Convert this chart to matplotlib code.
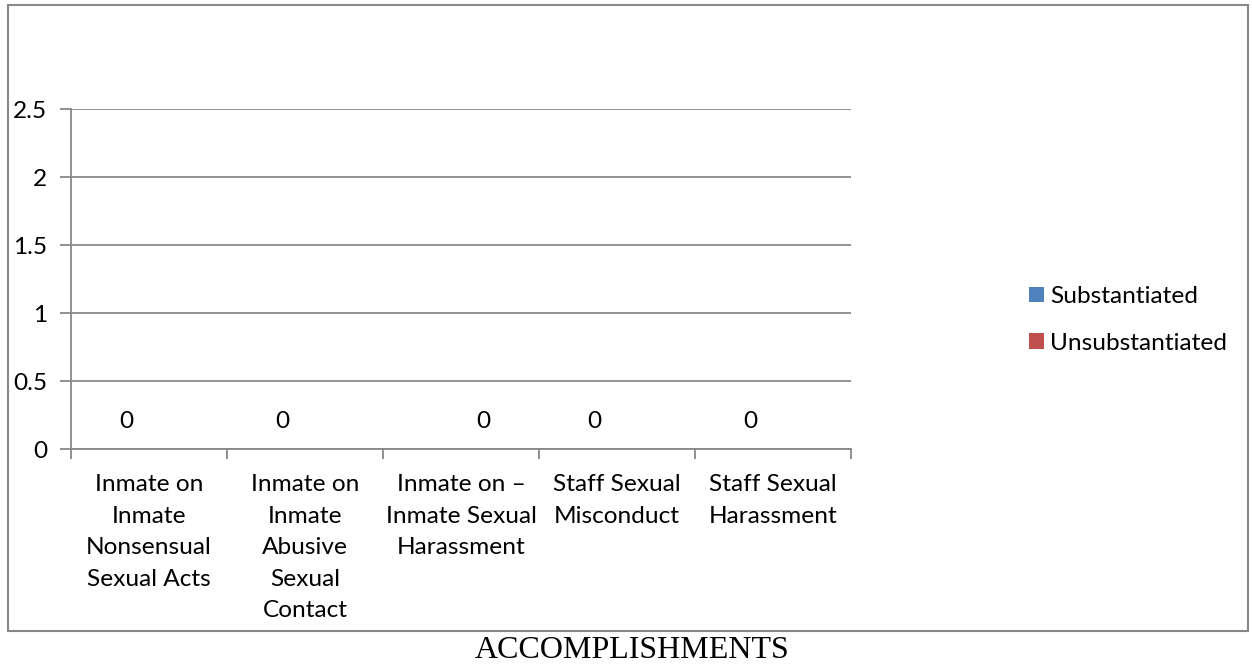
import numpy as np
import matplotlib
matplotlib.use('Agg')
import matplotlib.pyplot as plt
from matplotlib.patches import Rectangle

categories = ['Inmate on\nInmate\nNonsensual\nSexual Acts',
              'Inmate on\nInmate\nAbusive\nSexual\nContact',
              'Inmate on \u2013\nInmate Sexual\nHarassment',
              'Staff Sexual\nMisconduct',
              'Staff Sexual\nHarassment']
substantiated = [0, 0, 0, 0, 0]
unsubstantiated = [0, 0, 0, 0, 0]
# which series carries the visible data label in each category
label_on = ['Substantiated', 'Substantiated', 'Unsubstantiated',
            'Substantiated', 'Substantiated']
series_names = ['Substantiated', 'Unsubstantiated']
series_colors = ['#4F81BD', '#C0504D']
yticks = [0, 0.5, 1, 1.5, 2, 2.5]
caption = 'ACCOMPLISHMENTS'

plt.rcParams['font.family'] = ['Lato', 'DejaVu Sans']
fs = 17.6
grid_col = '#888888'

fig = plt.figure(figsize=(12.52, 6.67), dpi=100)
W, H = 1252.0, 667.0

# outer chart frame
fig.patches.append(Rectangle((8 / W, 1 - 631 / H), 1240 / W, 626 / H,
                             transform=fig.transFigure, fill=False,
                             edgecolor=grid_col, linewidth=1.5))

ax = fig.add_axes([71 / W, 1 - 449 / H, 780 / W, 340 / H])
x = np.arange(len(categories))
bw = 0.2857
b1 = ax.bar(x - bw / 2, substantiated, bw, color=series_colors[0], label=series_names[0])
b2 = ax.bar(x + bw / 2, unsubstantiated, bw, color=series_colors[1], label=series_names[1])

# data labels (only one series labelled per category)
for i in range(len(categories)):
    if label_on[i] == 'Substantiated':
        xi, v = x[i] - bw / 2, substantiated[i]
    else:
        xi, v = x[i] + bw / 2, unsubstantiated[i]
    ax.annotate('{}'.format(v), (xi, v), xytext=(0, 19.5), textcoords='offset points',
                ha='center', va='center', fontsize=fs, color='black')

ax.set_xlim(-0.5, len(categories) - 0.5)
ax.set_ylim(0, 2.5)
ax.set_yticks(yticks)
ax.set_yticklabels(['{:g}'.format(t) for t in yticks], fontsize=fs)
ax.yaxis.grid(True, color=grid_col, linewidth=1.3)
ax.set_axisbelow(True)

# category boundary ticks
ax.set_xticks(np.arange(-0.5, len(categories), 1.0))
ax.set_xticklabels([])
ax.tick_params(axis='x', length=7, color=grid_col, width=1.3, direction='out')
ax.tick_params(axis='y', length=8, color=grid_col, width=1.3, pad=9, direction='out')
for i, c in enumerate(categories):
    ax.text(x[i], -0.185, c, ha='center', va='top', fontsize=fs,
            linespacing=1.62, transform=ax.transData)

for s in ['top', 'right']:
    ax.spines[s].set_visible(False)
ax.spines['left'].set_color(grid_col)
ax.spines['bottom'].set_color(grid_col)
ax.spines['left'].set_linewidth(1.3)
ax.spines['bottom'].set_linewidth(1.3)

fig.legend(handles=[b1, b2], loc='center left',
           bbox_to_anchor=(1007 / W, 1 - 320 / H), frameon=False,
           fontsize=fs, handlelength=0.6, handleheight=0.6,
           handletextpad=0.25, labelspacing=1.05)

fig.text(632 / W, 1 - 650 / H, caption, ha='center', va='center',
         fontsize=23, family='Liberation Serif')

fig.savefig('out.png', dpi=100)
